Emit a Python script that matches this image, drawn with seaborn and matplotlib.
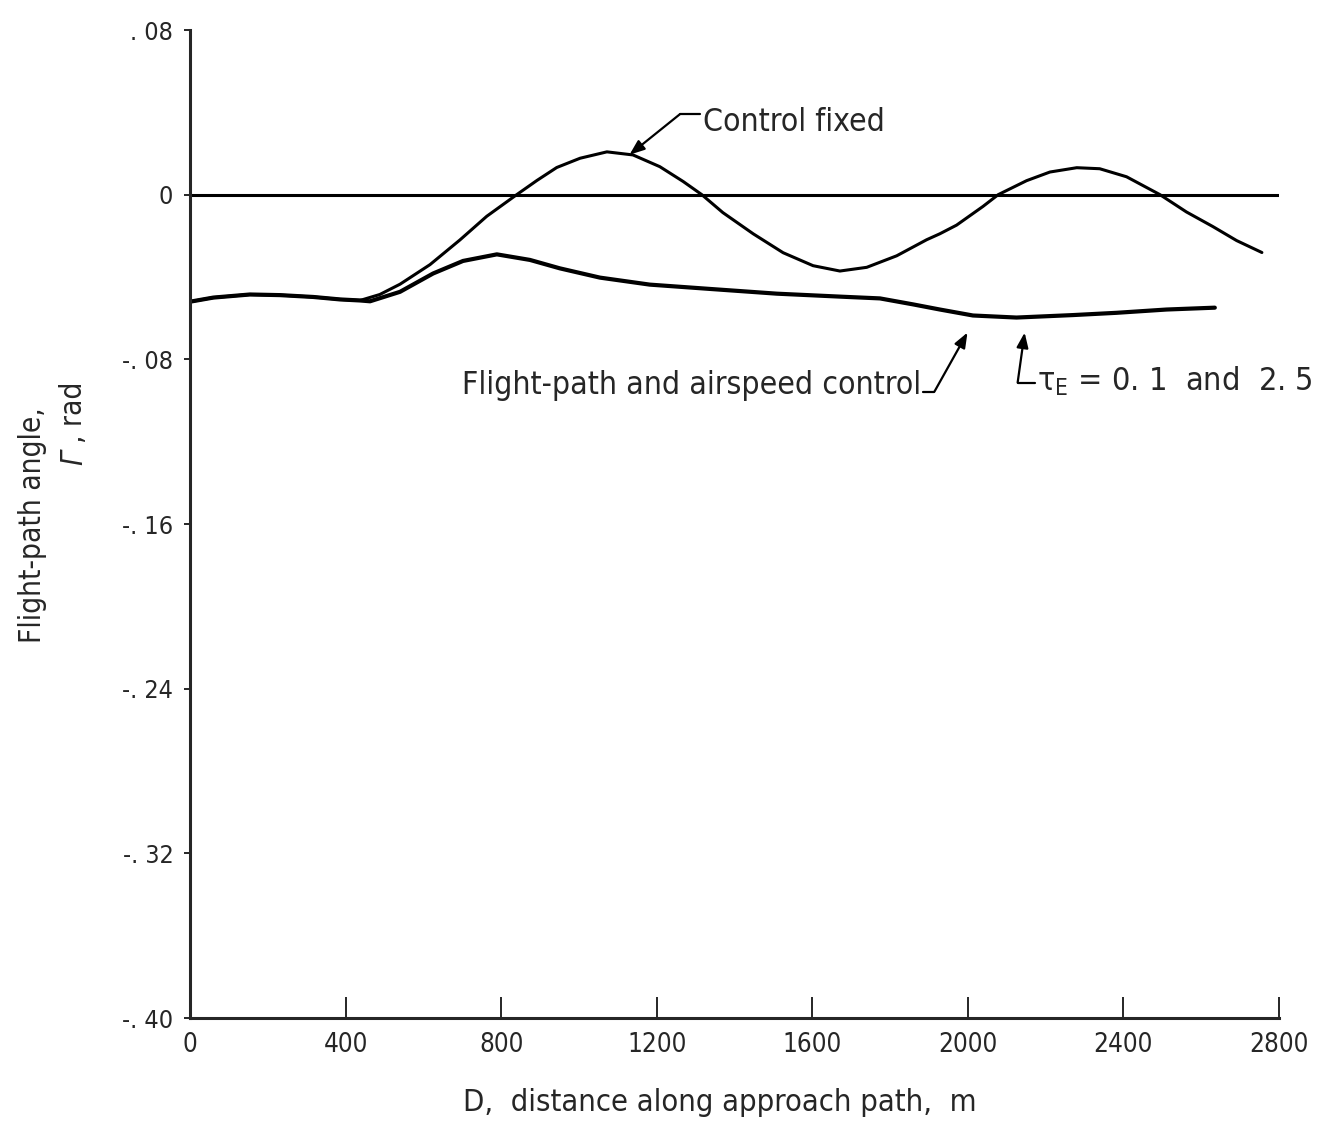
import numpy as np
import pandas as pd
import matplotlib
matplotlib.use("Agg")
import matplotlib.pyplot as plt
from matplotlib import font_manager
import seaborn as sns

# ---------------- data ----------------
fixed_D = [0, 60, 154, 231, 317, 386, 437, 488, 540, 617, 694, 763, 840, 892, 943,
           1003, 1072, 1139, 1208, 1268, 1316, 1370, 1448, 1525, 1602, 1671, 1740,
           1817, 1894, 1928, 1971, 2039, 2078, 2151, 2211, 2280, 2339, 2408, 2494,
           2562, 2630, 2691, 2756]
fixed_G = [-0.0520, -0.0500, -0.0485, -0.0488, -0.0497, -0.0509, -0.0514, -0.0485,
           -0.0435, -0.0340, -0.0220, -0.0105, 0.0000, 0.0069, 0.0132, 0.0177, 0.0208,
           0.0193, 0.0136, 0.0064, 0.0000, -0.0087, -0.0190, -0.0282, -0.0345, -0.0371,
           -0.0353, -0.0297, -0.0219, -0.0190, -0.0148, -0.0057, 0.0000, 0.0068, 0.0110,
           0.0131, 0.0126, 0.0087, 0.0000, -0.0084, -0.0155, -0.0223, -0.0281]

fpas_D = [0, 60, 154, 231, 317, 386, 437, 463, 540, 625, 702, 789, 874, 951, 1054,
          1182, 1337, 1509, 1679, 1774, 1859, 1928, 2013, 2125, 2270, 2382, 2511, 2635]
fpas_G = [-0.0520, -0.0500, -0.0485, -0.0488, -0.0497, -0.0509, -0.0514, -0.0518,
          -0.0472, -0.0383, -0.0322, -0.0290, -0.0317, -0.0358, -0.0403, -0.0437,
          -0.0458, -0.0481, -0.0496, -0.0504, -0.0533, -0.0558, -0.0587, -0.0597,
          -0.0585, -0.0574, -0.0558, -0.0549]

x_ticks = [0, 400, 800, 1200, 1600, 2000, 2400, 2800]
x_tick_labels = ["0", "400", "800", "1200", "1600", "2000", "2400", "2800"]
y_ticks = [0.08, 0.0, -0.08, -0.16, -0.24, -0.32, -0.40]
y_tick_labels = [". 08", "0", "-. 08", "-. 16", "-. 24", "-. 32", "-. 40"]

# ---------------- style ----------------
sns.set_style("ticks")
names = {f.name for f in font_manager.fontManager.ttflist}
if "Liberation Sans Narrow" in names:
    FAM = ["Liberation Sans Narrow", "DejaVu Sans"]
    k = 1.0
else:
    FAM = ["DejaVu Sans"]
    plt.rcParams["font.stretch"] = "condensed"
    k = 0.75
plt.rcParams["font.family"] = FAM

fig = plt.figure(figsize=(13.34, 11.30), dpi=100)
ax = fig.add_axes([190 / 1334, 1 - 1018 / 1130, 1089 / 1334, 988 / 1130])

df_fixed = pd.DataFrame({"D": fixed_D, "G": fixed_G})
df_fpas = pd.DataFrame({"D": fpas_D, "G": fpas_G})

ax.axhline(0, color="black", lw=2.2)
sns.lineplot(data=df_fixed, x="D", y="G", ax=ax, color="black", lw=2.2,
             estimator=None, sort=False)
sns.lineplot(data=df_fpas, x="D", y="G", ax=ax, color="black", lw=3.0,
             estimator=None, sort=False)

ax.set_xlim(0, 2800)
ax.set_ylim(-0.40, 0.08)
sns.despine(ax=ax)
for s in ("left", "bottom"):
    ax.spines[s].set_linewidth(2.2)

ax.set_xticks(x_ticks)
ax.set_xticklabels(x_tick_labels)
ax.set_yticks(y_ticks)
ax.set_yticklabels(y_tick_labels)
ax.tick_params(axis="x", direction="in", length=15, width=1.4,
               labelsize=25 * k, pad=10)
ax.tick_params(axis="y", direction="out", length=4, width=1.4,
               labelsize=24 * k, pad=8)

ax.set_xlabel("D,  distance along approach path,  m", fontsize=29.5 * k)
ax.xaxis.set_label_coords((720 - 190) / 1089, -(1088 - 1018) / 988)
ax.set_ylabel("Flight-path angle,", fontsize=28.5 * k)
ax.yaxis.set_label_coords(-(190 - 47) / 1089, (1018 - 525) / 988)
# second line of the y label: italic Gamma, then ", rad"
ax.text(-(190 - 74) / 1089, (1018 - 458) / 988, "Γ", style="italic",
        transform=ax.transAxes, rotation=90, ha="center", va="center",
        fontsize=28.5 * k)
ax.text(-(190 - 74) / 1089, (1018 - 412) / 988, ", rad",
        transform=ax.transAxes, rotation=90, ha="center", va="center",
        fontsize=28.5 * k)

# ---------------- annotations ----------------
arrow = dict(arrowstyle="-|>,head_length=0.9,head_width=0.35", color="black",
             lw=1.6, shrinkA=0, shrinkB=0)
# Control fixed
ax.annotate("", xy=(1130, 0.0194), xytext=(1259, 0.039), arrowprops=arrow)
ax.plot([1259, 1312], [0.039, 0.039], color="black", lw=1.6)
ax.text(1318, 0.035, "Control fixed", fontsize=30.5 * k, ha="left", va="center")

# Flight-path and airspeed control
ax.text(700, -0.0925, "Flight-path and airspeed control", fontsize=30.5 * k,
        ha="left", va="center")
ax.plot([1884, 1914], [-0.0957, -0.0957], color="black", lw=1.6)
ax.annotate("", xy=(1999, -0.067), xytext=(1914, -0.0957), arrowprops=arrow)

# tau_E
ax.plot([2128, 2172], [-0.0913, -0.0913], color="black", lw=1.6)
ax.annotate("", xy=(2146, -0.067), xytext=(2128, -0.0913), arrowprops=arrow)
ax.text(2178, -0.0905, "τ$_\\mathregular{E}$ = 0. 1  and  2. 5", fontsize=31 * k,
        ha="left", va="center", clip_on=False)

fig.savefig("out.png", dpi=100)
